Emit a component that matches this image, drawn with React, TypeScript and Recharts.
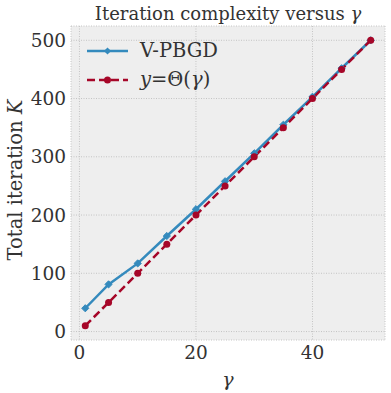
import { LineChart, Line, XAxis, YAxis, CartesianGrid } from 'recharts'

const gammas = [1, 5, 10, 15, 20, 25, 30, 35, 40, 45, 50]
const vpbgd = [40, 81, 117, 164, 210, 258, 306, 355, 403, 452, 500]
const theta = [10, 50, 100, 150, 200, 250, 300, 350, 400, 450, 500]
const xTicks = [0, 20, 40]
const yTicks = [0, 100, 200, 300, 400, 500]

const data = gammas.map((g, i) => ({ gamma: g, vpbgd: vpbgd[i], theta: theta[i] }))

const FONT = '"DejaVu Serif", serif'
const BLUE = '#348ABD'
const RED = '#A60628'

const Diamond = (props: any) => {
  const { cx, cy } = props
  if (cx == null || cy == null) return null
  const r = 3.6
  return (
    <polygon
      points={`${cx},${cy - r} ${cx + r},${cy} ${cx},${cy + r} ${cx - r},${cy}`}
      fill={BLUE}
      stroke={BLUE}
      strokeWidth={1}
    />
  )
}

// legend drawn over the plot, like matplotlib's upper-left legend
function LegendBox() {
  const row = { display: 'flex', alignItems: 'center', height: 29 }
  return (
    <div style={{ position: 'absolute', left: 86, top: 36, fontFamily: FONT, fontSize: 19.5, color: '#333' }}>
      <div style={row}>
        <svg width={50} height={12}>
          <line x1={1} y1={6} x2={42} y2={6} stroke={BLUE} strokeWidth={2.5} />
          <polygon points="21.5,2.4 25.1,6 21.5,9.6 17.9,6" fill={BLUE} />
        </svg>
        <span style={{ marginLeft: 4 }}>V-PBGD</span>
      </div>
      <div style={row}>
        <svg width={50} height={12}>
          <line x1={1} y1={6} x2={42} y2={6} stroke={RED} strokeWidth={2.5} strokeDasharray="8 4" />
          <circle cx={21.5} cy={6} r={3.5} fill={RED} />
        </svg>
        <span style={{ marginLeft: 4 }}>
          <i>y</i>=Θ(<i>γ</i>)
        </span>
      </div>
    </div>
  )
}

export default function App() {
  return (
    <div style={{ position: 'absolute', left: 0, top: 0, width: 391, height: 393, background: '#fff', fontFamily: FONT }}>
      <LineChart width={391} height={393} data={data} margin={{ top: 26, right: 6, bottom: 0, left: 0 }}>
        <CartesianGrid fill="#eeeeee" stroke="#c4c4c4" strokeDasharray="1 1.5" />
        <XAxis
          dataKey="gamma"
          type="number"
          domain={[-1.45, 52.45]}
          ticks={xTicks}
          axisLine={false}
          tickLine={false}
          tickSize={0}
          tickMargin={6}
          height={53}
          tick={{ fill: '#333', fontSize: 18.5, fontFamily: FONT }}
        />
        <YAxis
          type="number"
          domain={[-14.5, 524.5]}
          ticks={yTicks}
          axisLine={false}
          tickLine={false}
          tickSize={0}
          tickMargin={5}
          width={71}
          tick={{ fill: '#333', fontSize: 18.5, fontFamily: FONT }}
        />
        <Line
          dataKey="vpbgd"
          stroke={BLUE}
          strokeWidth={2.5}
          dot={<Diamond />}
          activeDot={false}
          isAnimationActive={false}
        />
        <Line
          dataKey="theta"
          stroke={RED}
          strokeWidth={2.5}
          strokeDasharray="8 4"
          dot={{ r: 3.5, fill: RED, stroke: RED, strokeWidth: 0 }}
          activeDot={false}
          isAnimationActive={false}
        />
      </LineChart>
      <div style={{ position: 'absolute', left: 71, width: 314, top: 3, textAlign: 'center', fontSize: 18, color: '#333', whiteSpace: 'nowrap' }}>
        Iteration complexity versus <i>γ</i>
      </div>
      <div
        style={{
          position: 'absolute',
          left: 15,
          top: 180,
          transform: 'translate(-50%, -50%) rotate(-90deg)',
          whiteSpace: 'nowrap',
          fontSize: 19.5,
          color: '#333',
        }}
      >
        Total iteration <i>K</i>
      </div>
      <div style={{ position: 'absolute', left: 71, width: 314, top: 368, textAlign: 'center', fontSize: 19, color: '#333' }}>
        <i>γ</i>
      </div>
      <LegendBox />
    </div>
  )
}
